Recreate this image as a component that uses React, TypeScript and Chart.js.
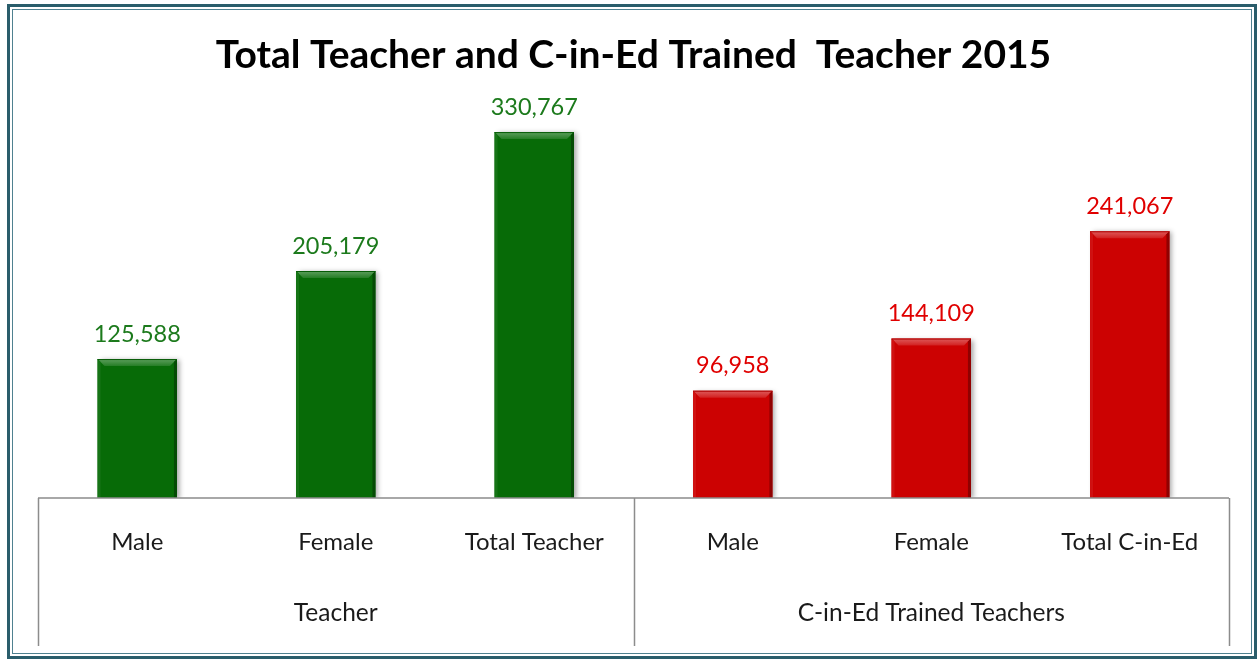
import React, { useEffect, useRef } from "react";
import { Chart, registerables } from "chart.js";

Chart.register(...registerables);

const categories = ["Male", "Female", "Total Teacher", "Male", "Female", "Total C-in-Ed"];
const values = [125588, 205179, 330767, 96958, 144109, 241067];
const groupLabels = ["Teacher", "C-in-Ed Trained Teachers"];
const groupSizes = [3, 3];
const groupBarColors = ["#076b07", "#cc0202"];
const groupTextColors = ["#1c7a1c", "#e00000"];
const yMin = 0;
const yMax = 350000;
const titleText = "Total Teacher and C-in-Ed Trained  Teacher 2015";

const FONT = "Lato, 'Open Sans', sans-serif";

function groupOf(i: number): number {
  let acc = 0;
  for (let g = 0; g < groupSizes.length; g++) {
    acc += groupSizes[g];
    if (i < acc) return g;
  }
  return groupSizes.length - 1;
}

const barColors = values.map((_, i) => groupBarColors[groupOf(i)]);

function shade(hex: string, amt: number): string {
  const n = parseInt(hex.slice(1), 16);
  let r = (n >> 16) & 255, g = (n >> 8) & 255, b = n & 255;
  const f = (c: number) => Math.max(0, Math.min(255, Math.round(amt >= 0 ? c + (255 - c) * amt : c * (1 + amt))));
  return `rgb(${f(r)},${f(g)},${f(b)})`;
}

const framePlugin = {
  id: "frame",
  beforeDraw(chart: any) {
    const { ctx, width, height } = chart;
    ctx.save();
    ctx.fillStyle = "#ffffff";
    ctx.fillRect(0, 0, width, height);
    ctx.strokeStyle = "#2a5d6b";
    ctx.lineWidth = 3;
    ctx.strokeRect(8.5, 5.5, 1247, 652);
    ctx.strokeStyle = "#4f8190";
    ctx.lineWidth = 1;
    ctx.strokeRect(12.5, 9.5, 1239, 644);
    ctx.restore();
  },
};

const shadowPlugin = {
  id: "barShadow",
  beforeDatasetsDraw(chart: any) {
    const ctx = chart.ctx;
    ctx.save();
    ctx.shadowColor = "rgba(0,0,0,0.35)";
    ctx.shadowBlur = 5;
    ctx.shadowOffsetX = 3;
    ctx.shadowOffsetY = 1;
  },
  afterDatasetsDraw(chart: any) {
    chart.ctx.restore();
  },
};

const bevelPlugin = {
  id: "bevel",
  afterDatasetsDraw(chart: any) {
    const ctx = chart.ctx;
    const meta = chart.getDatasetMeta(0);
    meta.data.forEach((bar: any, i: number) => {
      const base = barColors[i];
      const w = bar.width;
      const l = bar.x - w / 2;
      const r = bar.x + w / 2;
      const t = bar.y;
      const btm = bar.base;
      const b = 7;
      ctx.save();
      const grad = ctx.createLinearGradient(0, t, 0, t + b);
      grad.addColorStop(0, shade(base, 0.35));
      grad.addColorStop(1, shade(base, 0.12));
      ctx.fillStyle = grad;
      ctx.beginPath();
      ctx.moveTo(l, t);
      ctx.lineTo(r, t);
      ctx.lineTo(r - b, t + b);
      ctx.lineTo(l + b, t + b);
      ctx.closePath();
      ctx.fill();
      ctx.fillStyle = shade(base, 0.06);
      ctx.beginPath();
      ctx.moveTo(l, t);
      ctx.lineTo(l + 3, t + 3);
      ctx.lineTo(l + 3, btm);
      ctx.lineTo(l, btm);
      ctx.closePath();
      ctx.fill();
      ctx.fillStyle = shade(base, -0.3);
      ctx.beginPath();
      ctx.moveTo(r, t);
      ctx.lineTo(r - 3, t + 3);
      ctx.lineTo(r - 3, btm);
      ctx.lineTo(r, btm);
      ctx.closePath();
      ctx.fill();
      ctx.fillStyle = shade(base, -0.15);
      ctx.fillRect(l, t, w, 1);
      ctx.restore();
    });
  },
};

const labelPlugin = {
  id: "valueLabels",
  afterDatasetsDraw(chart: any) {
    const ctx = chart.ctx;
    const meta = chart.getDatasetMeta(0);
    ctx.save();
    ctx.font = `23.5px ${FONT}`;
    ctx.textAlign = "center";
    ctx.textBaseline = "middle";
    meta.data.forEach((bar: any, i: number) => {
      ctx.fillStyle = groupTextColors[groupOf(i)];
      ctx.fillText(values[i].toLocaleString("en-US"), bar.x, bar.y - 25);
    });
    ctx.restore();
  },
};

const axisBoxPlugin = {
  id: "axisBox",
  afterDraw(chart: any) {
    const ctx = chart.ctx;
    const xs = chart.scales.x;
    const area = chart.chartArea;
    const top = area.bottom;
    const bottom = xs.bottom;
    const half = (xs.getPixelForValue(1) - xs.getPixelForValue(0)) / 2;
    ctx.save();
    ctx.strokeStyle = "#8c8c8c";
    ctx.lineWidth = 1.5;
    ctx.beginPath();
    ctx.moveTo(area.left, top);
    ctx.lineTo(area.right, top);
    let idx = 0;
    const bounds: number[] = [area.left];
    groupSizes.forEach((s) => {
      idx += s;
      bounds.push(xs.getPixelForValue(idx - 1) + half);
    });
    bounds.forEach((bx) => {
      ctx.moveTo(Math.round(bx) + 0.5, top);
      ctx.lineTo(Math.round(bx) + 0.5, bottom);
    });
    ctx.stroke();
    ctx.font = `24.5px ${FONT}`;
    ctx.fillStyle = "#1a1a1a";
    ctx.textAlign = "center";
    ctx.textBaseline = "middle";
    groupLabels.forEach((g, gi) => {
      const cx = (bounds[gi] + bounds[gi + 1]) / 2;
      ctx.fillText(g, cx, top + 115);
    });
    ctx.restore();
  },
};

export default function App() {
  const ref = useRef<HTMLCanvasElement | null>(null);
  useEffect(() => {
    if (!ref.current) return;
    const chart = new Chart(ref.current, {
      type: "bar",
      data: {
        labels: categories,
        datasets: [
          {
            data: values,
            backgroundColor: barColors,
            borderWidth: 0,
            barPercentage: 0.4,
            categoryPercentage: 1,
          },
        ],
      },
      options: {
        animation: false,
        responsive: false,
        devicePixelRatio: 1,
        layout: { padding: { left: 38, right: 30, top: 15, bottom: 14 } },
        plugins: {
          legend: { display: false },
          tooltip: { enabled: false },
          title: {
            display: true,
            text: titleText,
            color: "#000000",
            font: { family: FONT, size: 39, weight: "bold" },
            padding: { top: 17, bottom: 32 },
          },
        },
        scales: {
          x: {
            grid: { display: false },
            border: { display: false },
            ticks: {
              color: "#1a1a1a",
              font: { family: FONT, size: 24 },
              padding: 22,
              maxRotation: 0,
              autoSkip: false,
            },
            afterFit: (scale: any) => {
              scale.height = 148;
            },
          },
          y: {
            display: false,
            min: yMin,
            max: yMax,
          },
        },
      },
      plugins: [framePlugin, shadowPlugin, bevelPlugin, labelPlugin, axisBoxPlugin],
    });
    return () => chart.destroy();
  }, []);
  return (
    <div style={{ position: "fixed", left: 0, top: 0, width: 1259, height: 660 }}>
      <canvas ref={ref} width={1259} height={660} style={{ display: "block" }} />
    </div>
  );
}
